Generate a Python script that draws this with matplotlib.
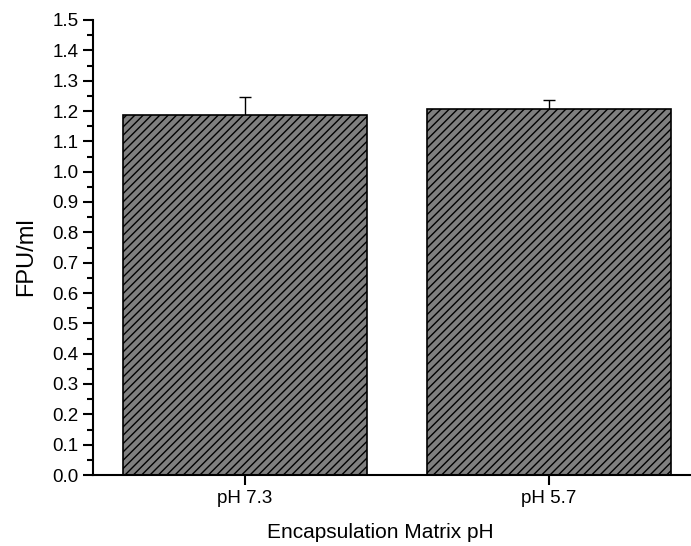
import matplotlib
matplotlib.use("Agg")
import matplotlib.pyplot as plt
from matplotlib.ticker import MultipleLocator

plt.rcParams['font.family'] = ['Liberation Sans', 'DejaVu Sans']
plt.rcParams['hatch.linewidth'] = 1.0
plt.rcParams['hatch.color'] = '#222222'

categories = ["pH 7.3", "pH 5.7"]
values = [1.187, 1.206]
errors = [0.060, 0.030]

fig = plt.figure(figsize=(6.91, 5.46), dpi=100)
ax = fig.add_axes([93/691, 71/546, 608/691, 455/546])

x = [1, 2]
ax.errorbar(x, values, yerr=errors, fmt='none', ecolor='black', elinewidth=1.0,
            capsize=4, capthick=1.0, zorder=1)
ax.bar(x, values, width=0.8, color='#7f7f7f', edgecolor='black', linewidth=1.2,
       hatch='////', zorder=2)

ax.set_xlim(0.5, 2.5)
ax.set_ylim(0, 1.5)
ax.set_xticks(x)
ax.set_xticklabels(categories)
ax.yaxis.set_major_locator(MultipleLocator(0.1))
ax.yaxis.set_minor_locator(MultipleLocator(0.05))
ax.yaxis.set_major_formatter(plt.FormatStrFormatter('%.1f'))

ax.spines['top'].set_visible(False)
ax.spines['right'].set_visible(False)
for s in ['left', 'bottom']:
    ax.spines[s].set_linewidth(1.5)
ax.tick_params(axis='both', which='major', direction='out', length=7, width=1.5, labelsize=13.5)
ax.tick_params(axis='y', which='minor', direction='out', length=4, width=1.5)
ax.tick_params(axis='x', which='minor', bottom=False)

ax.set_xlabel("Encapsulation Matrix pH", fontsize=15)
ax.set_ylabel("FPU/ml", fontsize=17)
ax.xaxis.set_label_coords(0.472, -0.105)
ax.yaxis.set_label_coords(-0.092, 0.479)

fig.savefig("out.png", dpi=100)
